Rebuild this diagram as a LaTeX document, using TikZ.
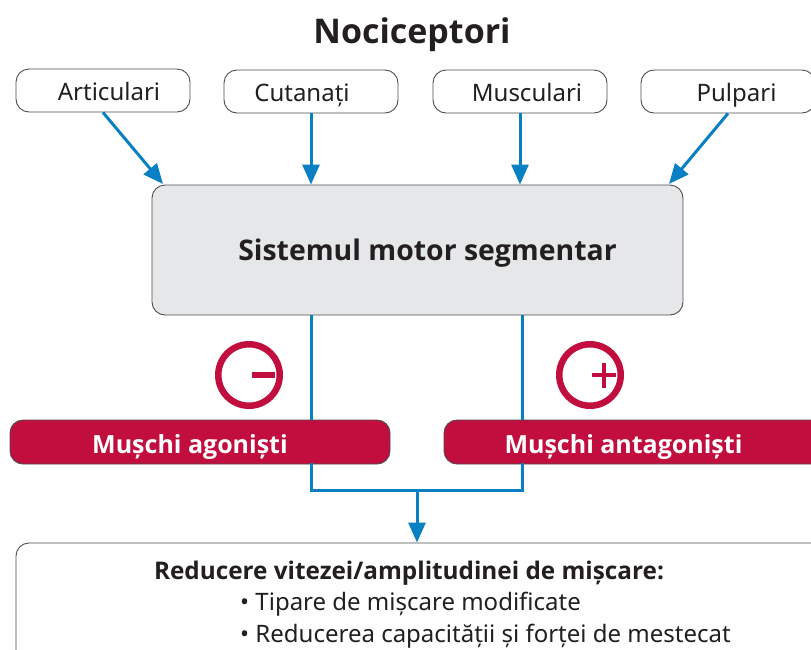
\documentclass[tikz,border=0pt]{standalone}
\usepackage{fontspec}
\setmainfont{Noto Sans}
\newfontfamily\heavy{Open Sans}
\usetikzlibrary{arrows.meta,calc}
\definecolor{crim}{HTML}{C20E3F}
\definecolor{blu}{HTML}{0A80C4}
\definecolor{ink}{HTML}{231F20}
\definecolor{pale}{HTML}{E6E7E8}
\definecolor{edge}{HTML}{4D4D4F}
\tikzset{
  x=1pt,y=-1pt,
  boxed/.style={draw=edge,line width=0.9pt,rounded corners=13pt,inner sep=0pt,fill=white},
  source/.style={boxed,minimum width=174pt,minimum height=43pt},
  muscle/.style={draw=edge,line width=0.9pt,fill=crim,rounded corners=13pt,inner sep=0pt,minimum height=44pt},
  lbl/.style={inner sep=0pt,text=ink,font=\fontsize{24}{28}\selectfont},
  boldlbl/.style={lbl,font=\heavy\fontsize{24.3}{28}\selectfont\bfseries},
  whitelbl/.style={boldlbl,text=white,font=\heavy\fontsize{25}{28}\selectfont\bfseries},
  feed/.style={draw=blu,line width=3pt,line cap=butt},
  flow/.style={feed,-{Triangle[length=20pt,width=17pt]}},
  sign/.style={circle,draw=crim,line width=6.5pt,minimum size=61.5pt,inner sep=0pt},
  signbar/.style={draw=crim,line width=5.5pt},
}
\begin{document}
\begin{tikzpicture}
\useasboundingbox (0,0) rectangle (811,649);
\clip (0,0) rectangle (811,649);
\node[boldlbl,font=\heavy\fontsize{34}{38}\selectfont\bfseries] (title) at (412,34.5) {Nociceptori};
\node[source] (art) at (103,90.5) {};
\node[source] (cut) at (311,91.5) {};
\node[source] (mus) at (520,91.5) {};
\node[source] (pul) at (728,91.5) {};
\node[lbl] (artt) at (109,91.5) {Articulari};
\node[lbl] (cutt) at (302,95) {Cutanați};
\node[lbl] (must) at (527,92) {Musculari};
\node[lbl] (pult) at (736.5,95) {Pulpari};
\node[boxed,fill=pale,minimum width=531pt,minimum height=130pt] (sis) at (417.5,250) {};
\node[boldlbl,font=\heavy\fontsize{28.4}{32}\selectfont\bfseries] (sist) at (427.5,253.5) {Sistemul motor segmentar};
\node[muscle,minimum width=380pt] (ago) at (200,442) {};
\node[muscle,minimum width=386pt] (ant) at (637,442) {};
\node[whitelbl] (agot) at (190,447) {Mușchi agoniști};
\node[whitelbl] (antt) at (623.5,447) {Mușchi antagoniști};
\node[sign] (minus) at (249,375) {};
\node[sign] (plus) at (590,375) {};
\coordinate (ml) at (252,375); \coordinate (mr) at (275,375);
\coordinate (pl) at (592,375); \coordinate (pr) at (616,375);
\coordinate (pt) at (604,363); \coordinate (pb) at (604,388);
\draw[signbar] (ml) -- (mr);
\draw[signbar,line width=4pt] (pl) -- (pr);
\draw[signbar,line width=4pt] (pt) -- (pb);
\node[boxed,minimum width=814pt,minimum height=127pt] (res) at (423,606.5) {};
\node[boldlbl] (rest) at (409,573) {Reducere vitezei/amplitudinei de mișcare:};
\node[lbl,anchor=west] (b1) at (240,604) {• Tipare de mișcare modificate};
\node[lbl,anchor=west] (b2) at (240,636) {• Reducerea capacității și forței de mestecat};
\coordinate (artend) at (163,184);
\coordinate (pulend) at (669,184);
\coordinate (r) at (522,0);
\coordinate (junction) at (417,490);
\draw[flow] (art.south) -- (artend);
\draw[flow] (cut.south) -- (cut.south |- sis.north);
\draw[flow] (mus.south) -- (mus.south |- sis.north);
\draw[flow] (pul.south) -- (pulend);
\draw[feed] (cut.south |- sis.south) -- (cut.south |- ago.north);
\draw[feed] (r |- sis.south) -- (r |- ant.north);
\draw[feed,line cap=rect] (cut.south |- ago.south) -- (cut.south |- junction) -- (r |- junction) -- (r |- ant.south);
\draw[flow] (junction) -- (junction |- res.north);
\end{tikzpicture}
\end{document}
